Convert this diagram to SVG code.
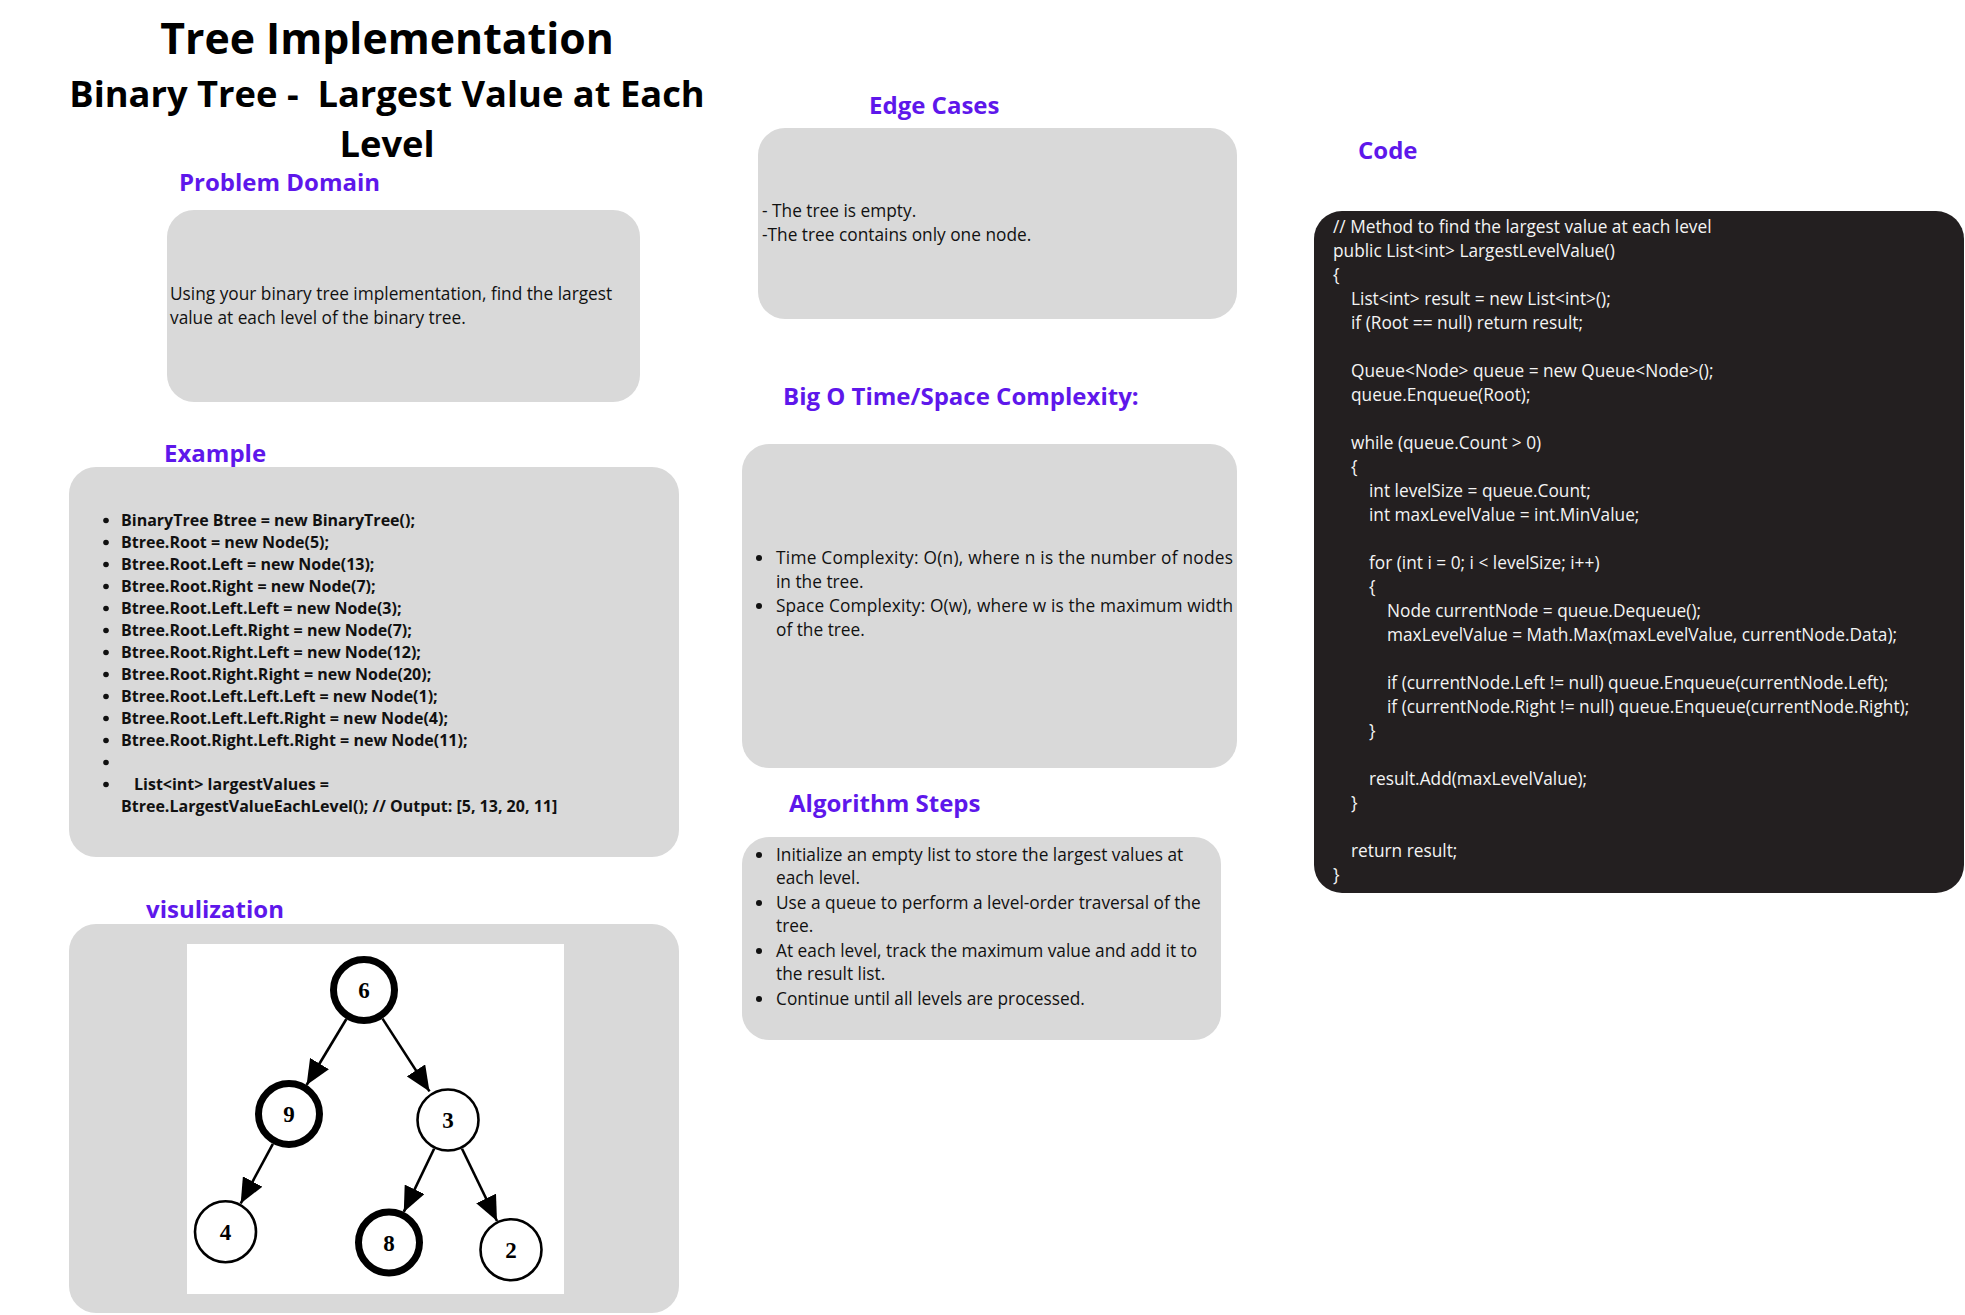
<svg xmlns="http://www.w3.org/2000/svg" width="1965" height="1315" viewBox="0 0 1965 1315">
<style>
  .title { font-family: "Open Sans", "Liberation Sans", sans-serif; font-weight: 700; fill: #000; text-anchor: middle; white-space: pre; }
  .head { font-family: "Open Sans", "Liberation Sans", sans-serif; font-weight: 700; font-size: 24px; fill: #5e17eb; }
  .box { fill: #d9d9d9; }
  .txt { font-family: "Open Sans", "Liberation Sans", sans-serif; font-size: 17.3px; fill: #111; }
  .ex { font-family: "Open Sans", "Liberation Sans", sans-serif; font-weight: 700; font-size: 16px; fill: #111; white-space: pre; }
  .code { font-family: "Open Sans", "Liberation Sans", sans-serif; font-size: 17.3px; fill: #f4f4f4; }
  .dot { fill: #111; }
  .node-thick { fill: #fff; stroke: #000; stroke-width: 7; }
  .node-thin { fill: #fff; stroke: #000; stroke-width: 2.6; }
  .num { font-family: "Liberation Serif", "Times New Roman", serif; font-weight: 700; font-size: 23px; text-anchor: middle; fill: #000; }
  .edge { stroke: #000; stroke-width: 2.6; fill: none; marker-end: url(#arrow); }
</style>
<defs>
  <marker id="arrow" markerUnits="userSpaceOnUse" markerWidth="26" markerHeight="22" refX="25" refY="11" orient="auto">
    <path d="M0,0 L25,11 L0,22 z" fill="#000"/>
  </marker>
</defs>
<rect width="1965" height="1315" fill="#fff"/>

<g id="title">
  <text class="title" x="387" y="54" font-size="42.8">Tree Implementation</text>
  <text class="title" x="387" y="107" font-size="36.3">Binary Tree -  Largest Value at Each</text>
  <text class="title" x="387" y="157" font-size="36.3">Level</text>
</g>

<g id="problem-domain">
  <text class="head" x="179" y="191">Problem Domain</text>
  <rect class="box" x="167" y="210" width="473" height="192" rx="27"/>
  <text class="txt" x="170" y="300">Using your binary tree implementation, find the largest</text>
  <text class="txt" x="170" y="324">value at each level of the binary tree.</text>
</g>

<g id="example">
  <text class="head" x="164" y="462">Example</text>
  <rect class="box" x="69" y="467" width="610" height="390" rx="27"/>
  <g>
    <circle class="dot" cx="106" cy="520.5" r="2.8"/>
    <circle class="dot" cx="106" cy="542.5" r="2.8"/>
    <circle class="dot" cx="106" cy="564.5" r="2.8"/>
    <circle class="dot" cx="106" cy="586.5" r="2.8"/>
    <circle class="dot" cx="106" cy="608.5" r="2.8"/>
    <circle class="dot" cx="106" cy="630.5" r="2.8"/>
    <circle class="dot" cx="106" cy="652.5" r="2.8"/>
    <circle class="dot" cx="106" cy="674.5" r="2.8"/>
    <circle class="dot" cx="106" cy="696.5" r="2.8"/>
    <circle class="dot" cx="106" cy="718.5" r="2.8"/>
    <circle class="dot" cx="106" cy="740.5" r="2.8"/>
    <circle class="dot" cx="106" cy="762.5" r="2.8"/>
    <circle class="dot" cx="106" cy="784.5" r="2.8"/>
  </g>
  <text class="ex" x="121" y="526">BinaryTree Btree = new BinaryTree();</text>
  <text class="ex" x="121" y="548">Btree.Root = new Node(5);</text>
  <text class="ex" x="121" y="570">Btree.Root.Left = new Node(13);</text>
  <text class="ex" x="121" y="592">Btree.Root.Right = new Node(7);</text>
  <text class="ex" x="121" y="614">Btree.Root.Left.Left = new Node(3);</text>
  <text class="ex" x="121" y="636">Btree.Root.Left.Right = new Node(7);</text>
  <text class="ex" x="121" y="658">Btree.Root.Right.Left = new Node(12);</text>
  <text class="ex" x="121" y="680">Btree.Root.Right.Right = new Node(20);</text>
  <text class="ex" x="121" y="702">Btree.Root.Left.Left.Left = new Node(1);</text>
  <text class="ex" x="121" y="724">Btree.Root.Left.Left.Right = new Node(4);</text>
  <text class="ex" x="121" y="746">Btree.Root.Right.Left.Right = new Node(11);</text>
  <text class="ex" x="134" y="790">List&lt;int&gt; largestValues =</text>
  <text class="ex" x="121" y="812">Btree.LargestValueEachLevel(); // Output: [5, 13, 20, 11]</text>
</g>

<g id="visualization">
  <text class="head" x="146" y="918">visulization</text>
  <rect class="box" x="69" y="924" width="610" height="389" rx="27"/>
  <rect x="187" y="944" width="377" height="350" fill="#fff"/>
</g>

<g id="connectors">
  <line class="edge" x1="346.4" y1="1019" x2="306.6" y2="1085"/>
  <line class="edge" x1="382.5" y1="1018.6" x2="429.5" y2="1091.4"/>
  <line class="edge" x1="272.9" y1="1143.9" x2="240.7" y2="1203.5"/>
  <line class="edge" x1="434.1" y1="1148.8" x2="403.8" y2="1211.9"/>
  <line class="edge" x1="462" y1="1148.8" x2="497" y2="1221"/>
</g>

<g id="node-6">
  <circle class="node-thick" cx="364" cy="990" r="30.5"/>
  <text class="num" x="364" y="998">6</text>
</g>
<g id="node-9">
  <circle class="node-thick" cx="289" cy="1114" r="30.5"/>
  <text class="num" x="289" y="1122">9</text>
</g>
<g id="node-3">
  <circle class="node-thin" cx="448" cy="1120" r="30.5"/>
  <text class="num" x="448" y="1128">3</text>
</g>
<g id="node-4">
  <circle class="node-thin" cx="225.5" cy="1231.7" r="30.5"/>
  <text class="num" x="225.5" y="1239.7">4</text>
</g>
<g id="node-8">
  <circle class="node-thick" cx="389" cy="1242.5" r="30.5"/>
  <text class="num" x="389" y="1250.5">8</text>
</g>
<g id="node-2">
  <circle class="node-thin" cx="511" cy="1249.7" r="30.5"/>
  <text class="num" x="511" y="1257.7">2</text>
</g>

<g id="edge-cases">
  <text class="head" x="869" y="113.5">Edge Cases</text>
  <rect class="box" x="758" y="128" width="479" height="191" rx="27"/>
  <text class="txt" x="762" y="216.5">- The tree is empty.</text>
  <text class="txt" x="762" y="240.5">-The tree contains only one node.</text>
</g>

<g id="big-o">
  <text class="head" x="783" y="405">Big O Time/Space Complexity:</text>
  <rect class="box" x="742" y="444" width="495" height="324" rx="27"/>
  <circle class="dot" cx="759" cy="558" r="3"/>
  <circle class="dot" cx="759" cy="606" r="3"/>
  <text class="txt" x="776" y="564" textLength="457" lengthAdjust="spacing">Time Complexity: O(n), where n is the number of nodes</text>
  <text class="txt" x="776" y="588">in the tree.</text>
  <text class="txt" x="776" y="612" textLength="457" lengthAdjust="spacing">Space Complexity: O(w), where w is the maximum width</text>
  <text class="txt" x="776" y="636">of the tree.</text>
</g>

<g id="algorithm-steps">
  <text class="head" x="789" y="812">Algorithm Steps</text>
  <rect class="box" x="742" y="837" width="479" height="203" rx="27"/>
  <circle class="dot" cx="759" cy="855" r="3"/>
  <circle class="dot" cx="759" cy="903" r="3"/>
  <circle class="dot" cx="759" cy="951" r="3"/>
  <circle class="dot" cx="759" cy="999" r="3"/>
  <text class="txt" x="776" y="860.7">Initialize an empty list to store the largest values at</text>
  <text class="txt" x="776" y="884.3">each level.</text>
  <text class="txt" x="776" y="908.7">Use a queue to perform a level-order traversal of the</text>
  <text class="txt" x="776" y="932.3">tree.</text>
  <text class="txt" x="776" y="956.7">At each level, track the maximum value and add it to</text>
  <text class="txt" x="776" y="980.3">the result list.</text>
  <text class="txt" x="776" y="1004.7">Continue until all levels are processed.</text>
</g>

<g id="code">
  <text class="head" x="1358" y="159">Code</text>
  <rect x="1314" y="211" width="650" height="682" rx="28" fill="#231f20"/>
  <text class="code" x="1333" y="233">// Method to find the largest value at each level</text>
  <text class="code" x="1333" y="257">public List&lt;int&gt; LargestLevelValue()</text>
  <text class="code" x="1333" y="281">{</text>
  <text class="code" x="1351" y="305">List&lt;int&gt; result = new List&lt;int&gt;();</text>
  <text class="code" x="1351" y="329">if (Root == null) return result;</text>
  <text class="code" x="1351" y="377">Queue&lt;Node&gt; queue = new Queue&lt;Node&gt;();</text>
  <text class="code" x="1351" y="401">queue.Enqueue(Root);</text>
  <text class="code" x="1351" y="449">while (queue.Count &gt; 0)</text>
  <text class="code" x="1351" y="473">{</text>
  <text class="code" x="1369" y="497">int levelSize = queue.Count;</text>
  <text class="code" x="1369" y="521">int maxLevelValue = int.MinValue;</text>
  <text class="code" x="1369" y="569">for (int i = 0; i &lt; levelSize; i++)</text>
  <text class="code" x="1369" y="593">{</text>
  <text class="code" x="1387" y="617">Node currentNode = queue.Dequeue();</text>
  <text class="code" x="1387" y="641">maxLevelValue = Math.Max(maxLevelValue, currentNode.Data);</text>
  <text class="code" x="1387" y="689">if (currentNode.Left != null) queue.Enqueue(currentNode.Left);</text>
  <text class="code" x="1387" y="713">if (currentNode.Right != null) queue.Enqueue(currentNode.Right);</text>
  <text class="code" x="1369" y="737">}</text>
  <text class="code" x="1369" y="785">result.Add(maxLevelValue);</text>
  <text class="code" x="1351" y="809">}</text>
  <text class="code" x="1351" y="857">return result;</text>
  <text class="code" x="1333" y="881">}</text>
</g>
</svg>
